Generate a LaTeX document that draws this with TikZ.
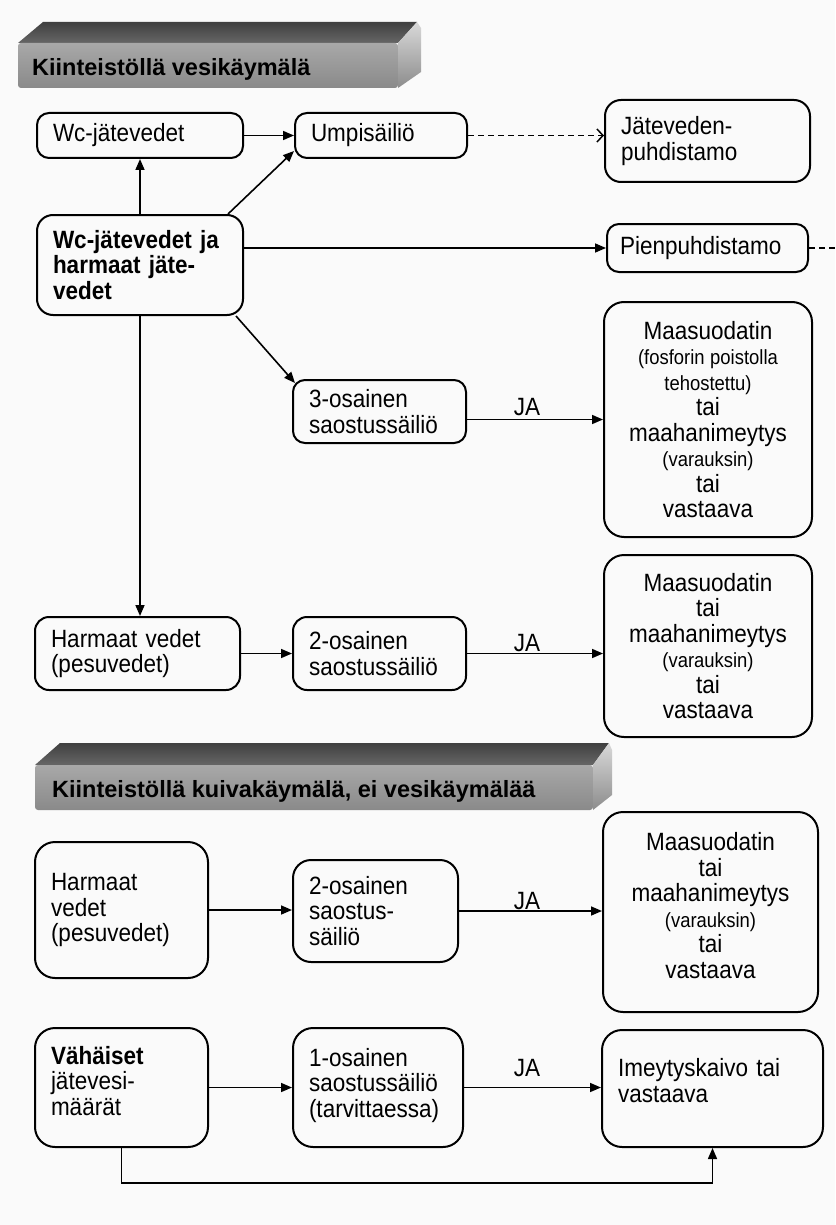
\documentclass[tikz,border=0pt]{standalone}
\usepackage{fontspec}
\setmainfont{Liberation Sans}
\newfontfamily\narrowfont[FakeStretch=0.9]{Liberation Sans}
\usetikzlibrary{arrows.meta}
\newcommand\myfont{\narrowfont\fontsize{25}{25.5}\selectfont\spaceskip=5.5pt plus 1pt minus 1pt\relax}
\newcommand\mysmall{\fontsize{20.5}{22}\selectfont}
\newcommand\myhead{\fontsize{23.5}{26}\selectfont\bfseries}
\begin{document}
\begin{tikzpicture}[x=1pt,y=-1pt,
  box/.style={draw, line width=2pt, rounded corners=12pt, inner xsep=16pt, inner ysep=0pt, font=\myfont, align=left},
  cbox/.style={draw, line width=2pt, rounded corners=20pt, inner sep=0pt, font=\myfont, align=center},
  arr/.style={line width=1.6pt, -{Triangle[length=11pt,width=9pt]}},
  darr/.style={line width=1.5pt, dash pattern=on 6pt off 4pt, -{Straight Barb[length=6pt,width=13pt,line width=1.5pt]}},
  dline/.style={line width=1.5pt, dash pattern=on 6pt off 4pt},
  lbl/.style={font=\myfont, inner sep=0pt},
  headtxt/.style={font=\myhead, inner sep=0pt, anchor=base west},
]
\useasboundingbox (0,0) rectangle (835,1225);
\fill[black!2] (0,0) rectangle (835,1225);

% ---- header 1
\shade[top color=black!75, bottom color=black!60] (18,43) -- (43,22) -- (417,22) -- (398,43) -- cycle;
\shade[top color=black!34, bottom color=black!46, rounded corners=3pt] (18,43) rectangle (398,88);
\shade[top color=black!15, bottom color=black!45] (398,43) -- (417,22) -- (421,28) -- (421,72) -- (398,88) -- cycle;
\node[headtxt] (h1) at (32,76) {Kiinteistöllä vesikäymälä};

% ---- header 2
\shade[top color=black!75, bottom color=black!60] (35,765) -- (60,743) -- (609,743) -- (593,765) -- cycle;
\shade[top color=black!34, bottom color=black!46, rounded corners=3pt] (35,765) rectangle (593,810);
\shade[top color=black!15, bottom color=black!45] (593,765) -- (609,743) -- (612,750) -- (612,795) -- (593,810) -- cycle;
\node[headtxt] (h2) at (52,797) {Kiinteistöllä kuivakäymälä, ei vesikäymälää};

% ---- boxes upper part
\node[box, minimum height=45pt, text width=174pt] (wc) at (140,135.5) {Wc-jätevedet};
\node[box, minimum height=45pt, text width=140pt] (ump) at (381,135.5) {Umpisäiliö};
\node[box, rounded corners=16pt, minimum height=82pt, text width=173pt] (jat) at (707.5,141) {Jäteveden-\\puhdistamo};
\node[box, rounded corners=16pt, minimum height=100pt, text width=174pt, font=\myfont\bfseries] (big) at (140,265) {Wc-jätevedet ja\\harmaat jäte-\\vedet};
\node[box, minimum height=48pt, text width=175pt, inner xsep=13pt] (pien) at (707.5,248) {Pienpuhdistamo};
\node[cbox, minimum height=235pt, minimum width=208pt] (maa1) at (708,419.5)
  {Maasuodatin\\{\mysmall (fosforin poistolla}\\{\mysmall tehostettu)}\\tai\\maahanimeytys\\{\mysmall (varauksin)}\\tai\\vastaava};
\node[box, minimum height=63pt, text width=141pt] (s3) at (379.5,411.5) {3-osainen\\saostussäiliö};
\node[box, rounded corners=14pt, minimum height=73pt, text width=173pt] (harm1) at (137.5,653.5) {Harmaat vedet\\(pesuvedet)};
\node[box, rounded corners=14pt, minimum height=73pt, text width=141pt] (s2a) at (379.5,653.5) {2-osainen\\saostussäiliö};
\node[cbox, minimum height=182pt, minimum width=208pt] (maa2) at (708,646)
  {Maasuodatin\\tai\\maahanimeytys\\{\mysmall (varauksin)}\\tai\\vastaava};

% ---- boxes lower part
\node[box, rounded corners=20pt, minimum height=136pt, text width=141pt] (harm2) at (121.5,910) {Harmaat\\vedet\\(pesuvedet)};
\node[box, rounded corners=18pt, minimum height=102pt, text width=133pt] (s2b) at (375.5,911) {2-osainen\\saostus-\\säiliö};
\node[cbox, minimum height=200pt, minimum width=215pt] (maa3) at (710.5,912)
  {Maasuodatin\\tai\\maahanimeytys\\{\mysmall (varauksin)}\\tai\\vastaava\\[-12pt]~};
\node[box, rounded corners=20pt, minimum height=119pt, text width=141pt] (vah) at (121.5,1087.5) {\textbf{Vähäiset}\\jätevesi-\\määrät\\[-12pt]~};
\node[box, rounded corners=20pt, minimum height=119pt, text width=138pt] (s1) at (378,1087.5) {1-osainen\\saostussäiliö\\(tarvittaessa)\\[-16pt]~};
\node[box, rounded corners=20pt, minimum height=117pt, text width=189pt] (ime) at (712.5,1088.5) {Imeytyskaivo tai\\vastaava\\[-9pt]~};

% ---- JA labels
\node[lbl] (ja1) at (527,407) {JA};
\node[lbl] (ja2) at (527,643) {JA};
\node[lbl] (ja3) at (527,901) {JA};
\node[lbl] (ja4) at (527,1068) {JA};

% ---- connectors
\draw[arr] (big.north) -- (big.north |- wc.south);
\draw[arr] (wc.east) -- (ump.west);
\draw[arr] ([xshift=-16pt]big.north east) -- ([yshift=8pt]ump.south west);
\draw[darr] (ump.east) -- (ump.east -| jat.west);
\draw[arr] (big.east |- pien.west) -- (pien.west);
\coordinate (pexit) at (835,248);
\draw[dline] (pien.east) -- (pexit);
\draw[arr] ([xshift=-8pt]big.south east) -- ([xshift=3pt,yshift=-4pt]s3.north west);
\draw[arr] (big.south) -- (big.south |- harm1.north);
\draw[arr] ([yshift=-8pt]s3.east) -- ([yshift=-8pt]s3.east -| maa1.west);
\draw[arr] (harm1.east) -- (s2a.west);
\draw[arr] (s2a.east) -- (s2a.east -| maa2.west);
\draw[arr] (harm2.east) -- (harm2.east -| s2b.west);
\draw[arr] (s2b.east) -- (s2b.east -| maa3.west);
\draw[arr] (vah.east) -- (vah.east -| s1.west);
\draw[arr] (s1.east) -- (s1.east -| ime.west);
\draw[arr] (vah.south) -- ++(0,35) -| (ime.south);
\end{tikzpicture}
\end{document}
